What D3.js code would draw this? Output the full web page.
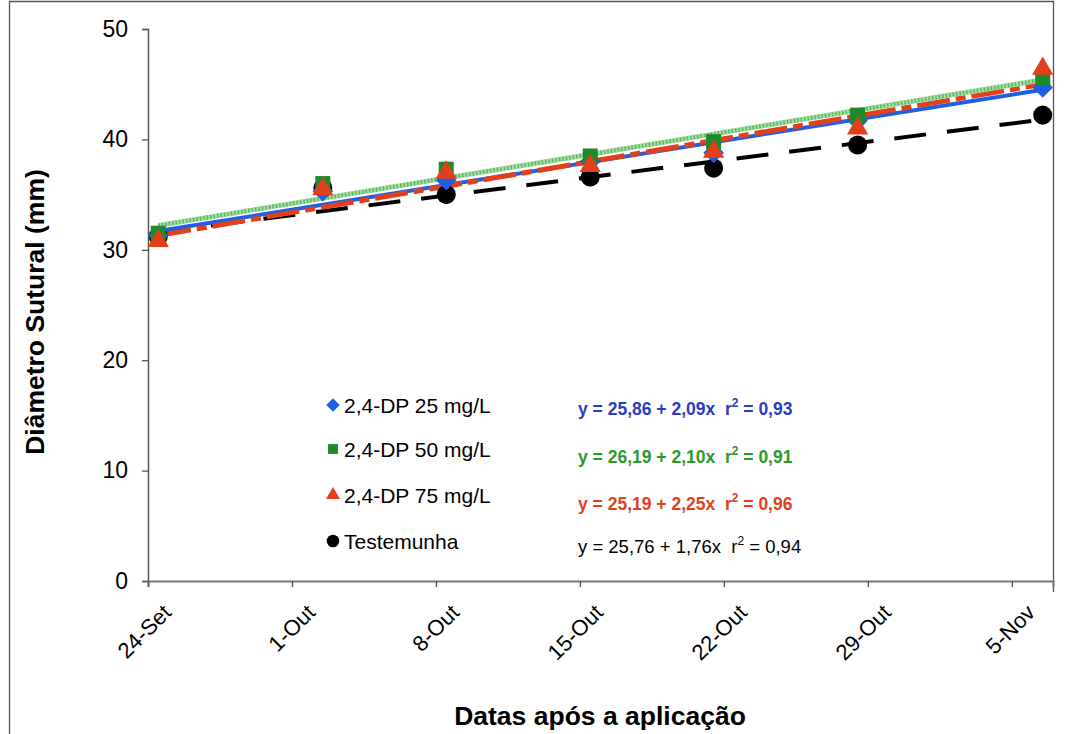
<!DOCTYPE html>
<html>
<head>
<meta charset="utf-8">
<script src="https://cdn.jsdelivr.net/npm/d3@7/dist/d3.min.js"></script>
<style>
  body { margin: 0; background: #fff; }
  svg { display: block; font-family: "Liberation Sans", Arial, sans-serif; }
</style>
</head>
<body>
<script>
// sampling dates (points sit in the middle of each day, Excel date axis)
var sampleDates = ["2003-09-24", "2003-10-02", "2003-10-08", "2003-10-15", "2003-10-21", "2003-10-28", "2003-11-06"];

// measured diameters (mm)
var dp25 = [31.3, 35.3, 36.3, 38.0, 38.8, 41.7, 44.7];
var dp50 = [31.5, 36.0, 37.3, 38.5, 39.8, 42.2, 45.6];
var dp75 = [30.8, 35.5, 37.0, 37.6, 38.9, 41.0, 46.4];
var testemunha = [31.2, 35.6, 35.0, 36.6, 37.4, 39.5, 42.2];

// trend lines, value at first and last sampling date
var trend25 = [31.7, 44.5];
var trend50 = [32.2, 45.4];
var trend75 = [31.3, 45.0];
var trendTest = [31.6, 41.8];

var seriesNames = ["2,4-DP 25 mg/L", "2,4-DP 50 mg/L", "2,4-DP 75 mg/L", "Testemunha"];
var equations = [
    "y = 25,86 + 2,09x\u00a0\u00a0r",
    "y = 26,19 + 2,10x\u00a0\u00a0r",
    "y = 25,19 + 2,25x\u00a0\u00a0r",
    "y = 25,76 + 1,76x\u00a0\u00a0r"
];
var rSquared = ["0,93", "0,91", "0,96", "0,94"];

// x axis ticks
var xTickDates = ["2003-09-24", "2003-10-01", "2003-10-08", "2003-10-15", "2003-10-22", "2003-10-29", "2003-11-05"];
var xTickLabels = ["24-Set", "1-Out", "8-Out", "15-Out", "22-Out", "29-Out", "5-Nov"];
var yTicks = [0, 10, 20, 30, 40, 50];

var width = 1072,
    height = 734;

var plot = { left: 148, right: 1053, top: 29, bottom: 581 };

var parse = d3.utcParse("%Y-%m-%d");
var halfDay = 12 * 3600 * 1000;

var x = d3.scaleUtc()
    .domain([parse("2003-09-24"), parse("2003-11-07")])
    .range([plot.left, plot.right]);

var y = d3.scaleLinear()
    .domain([0, 50])
    .range([plot.bottom, plot.top]);

function mid(s) { return new Date(parse(s).getTime() + halfDay); }

var colors = {
    blue: "#1f5fe6",
    green: "#1d8a2c",
    lightGreen: "#a6dca6",
    red: "#e2401c",
    black: "#000"
};

var series = [
    { name: seriesNames[3], values: testemunha, color: colors.black, shape: "circle", eqColor: "#000", eqWeight: "normal", eqSize: 18.5 },
    { name: seriesNames[0], values: dp25, color: colors.blue, shape: "diamond", eqColor: "#2b3cc4", eqWeight: "bold", eqSize: 17.5 },
    { name: seriesNames[1], values: dp50, color: colors.green, shape: "square", eqColor: "#2a9a2a", eqWeight: "bold", eqSize: 17.5 },
    { name: seriesNames[2], values: dp75, color: colors.red, shape: "triangle", eqColor: "#e2401c", eqWeight: "bold", eqSize: 17.5 }
];

var svg = d3.select("body").append("svg")
    .attr("width", width)
    .attr("height", height);

// chart frame (left, top, right as in the scan)
svg.append("path")
    .attr("d", "M9.5,734V1.5H" + (plot.right + 0.5) + "V592")
    .attr("fill", "none")
    .attr("stroke", "#555")
    .attr("stroke-width", 1.3);

// y axis
var yAxis = svg.append("g")
    .attr("transform", "translate(" + plot.left + ",0)")
    .call(d3.axisLeft(y).tickValues(yTicks).tickSize(6).tickPadding(14));
yAxis.select(".domain").attr("stroke", "#555").attr("stroke-width", 1.5);
yAxis.selectAll(".tick line").attr("stroke", "#555").attr("stroke-width", 1.3);
yAxis.selectAll(".tick text")
    .attr("font-size", 23)
    .attr("fill", "#000")
    .attr("font-family", "Liberation Sans, Arial, sans-serif");

// x axis
var xAxis = svg.append("g")
    .attr("transform", "translate(0," + plot.bottom + ")")
    .call(d3.axisBottom(x)
        .tickValues(xTickDates.map(parse))
        .tickFormat(function(d, i) { return xTickLabels[i]; })
        .tickSize(6));
xAxis.select(".domain").attr("stroke", "#777").attr("stroke-width", 2);
xAxis.selectAll(".tick line").attr("stroke", "#555").attr("stroke-width", 1.3);
xAxis.selectAll(".tick text")
    .attr("font-size", 22)
    .attr("fill", "#000")
    .attr("font-family", "Liberation Sans, Arial, sans-serif")
    .attr("text-anchor", "end")
    .attr("dy", null)
    .attr("y", 0)
    .attr("transform", "translate(24,33) rotate(-45)");

// axis titles
svg.append("text")
    .attr("transform", "translate(44,312) rotate(-90)")
    .attr("text-anchor", "middle")
    .attr("font-size", 26.5)
    .attr("font-weight", "bold")
    .text("Diâmetro Sutural (mm)");

svg.append("text")
    .attr("x", 600).attr("y", 725)
    .attr("text-anchor", "middle")
    .attr("font-size", 26.5)
    .attr("font-weight", "bold")
    .text("Datas após a aplicação");

// trend lines
var ends = [mid(sampleDates[0]), mid(sampleDates[sampleDates.length - 1])];
var trendLine = d3.line()
    .x(function(d, i) { return x(ends[i]); })
    .y(function(d) { return y(d); });

var lines = svg.append("g").attr("class", "trends");

lines.append("path")
    .attr("d", trendLine(trendTest))
    .attr("fill", "none").attr("stroke", colors.black)
    .attr("stroke-width", 4).attr("stroke-dasharray", "32,21");

lines.append("path")
    .attr("d", trendLine(trend25))
    .attr("fill", "none").attr("stroke", colors.blue)
    .attr("stroke-width", 4);

lines.append("path")
    .attr("d", trendLine(trend75))
    .attr("fill", "none").attr("stroke", colors.red)
    .attr("stroke-width", 5).attr("stroke-dasharray", "33,6,10,6");

lines.append("path")
    .attr("d", trendLine(trend50))
    .attr("fill", "none").attr("stroke", colors.lightGreen)
    .attr("stroke-width", 5);
lines.append("path")
    .attr("d", trendLine(trend50))
    .attr("fill", "none").attr("stroke", "#5cb85c")
    .attr("stroke-width", 4).attr("stroke-dasharray", "1.5,2");

// markers
function symbolFor(shape, s) {
    if (shape === "diamond") return d3.symbol().type(d3.symbolDiamond2).size(s * 0.9)();
    if (shape === "square") return d3.symbol().type(d3.symbolSquare).size(s * 0.75)();
    if (shape === "triangle") return d3.symbol().type(d3.symbolTriangle).size(s * 0.65)();
    return d3.symbol().type(d3.symbolCircle).size(s * 0.95)();
}

series.forEach(function(sr) {
    svg.append("g")
        .selectAll("path")
        .data(sr.values)
        .enter().append("path")
        .attr("d", symbolFor(sr.shape, 300))
        .attr("transform", function(d, i) {
            return "translate(" + x(mid(sampleDates[i])) + "," + y(d) + ")";
        })
        .attr("fill", sr.color);
});

// legend
var legendOrder = [series[1], series[2], series[3], series[0]];
var legendY = [405, 449, 495, 541];
var eqY = [415, 463, 510, 553];

var legend = svg.append("g");
legendOrder.forEach(function(sr, i) {
    legend.append("path")
        .attr("d", symbolFor(sr.shape, 130))
        .attr("transform", "translate(333," + legendY[i] + ")")
        .attr("fill", sr.color);
    legend.append("text")
        .attr("x", 344).attr("y", legendY[i] + 8)
        .attr("font-size", 21)
        .text(sr.name);

    var idx = seriesNames.indexOf(sr.name);
    var eq = legend.append("text")
        .attr("x", 578).attr("y", eqY[i])
        .attr("font-size", sr.eqSize)
        .attr("fill", sr.eqColor)
        .attr("font-weight", sr.eqWeight);
    eq.append("tspan").text(equations[idx]);
    eq.append("tspan").attr("font-size", 12).attr("dy", -8).text("2");
    eq.append("tspan").attr("dy", 8).text(" = " + rSquared[idx]);
});
</script>
</body>
</html>
